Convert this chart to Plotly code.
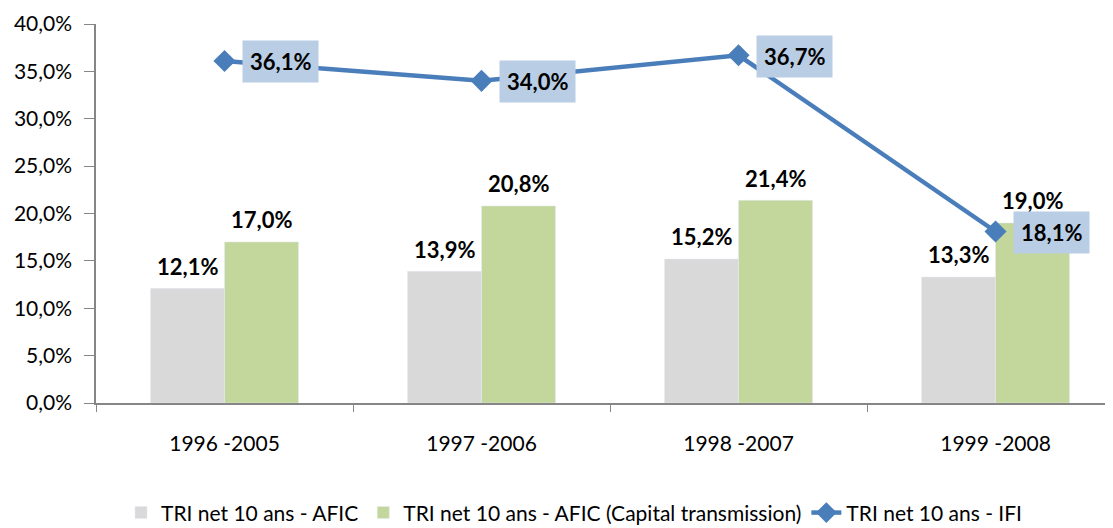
import plotly.graph_objects as go

categories = ["1996 -2005", "1997 -2006", "1998 -2007", "1999 -2008"]
afic = [12.1, 13.9, 15.2, 13.3]
afic_ct = [17.0, 20.8, 21.4, 19.0]
ifi = [36.1, 34.0, 36.7, 18.1]

name_afic = "TRI net 10 ans - AFIC"
name_ct = "TRI net 10 ans - AFIC (Capital transmission)"
name_ifi = "TRI net 10 ans - IFI"

FONT = "Lato"
BARGAP = 0.424
CAT_PX = 257  # pixel width of one category slot


def fmt(v):
    return f"{v:.1f}%".replace(".", ",")


fig = go.Figure()
fig.add_trace(go.Bar(x=categories, y=afic, name=name_afic, marker_color="#d9d9d9"))
fig.add_trace(go.Bar(x=categories, y=afic_ct, name=name_ct, marker_color="#c3d69b"))
fig.add_trace(go.Scatter(x=categories, y=ifi, name=name_ifi, mode="lines+markers",
                         line=dict(color="#4a7ebb", width=4.5),
                         marker=dict(symbol="diamond", size=17, color="#4a7ebb"),
                         cliponaxis=False))

half_bar = (1 - BARGAP) * CAT_PX / 4
for series, sign in ((afic, -1), (afic_ct, 1)):
    for c, v in zip(categories, series):
        fig.add_annotation(x=c, y=v, text=f"<b>{fmt(v)}</b>", showarrow=False,
                           xanchor="center", yanchor="middle",
                           xshift=sign * half_bar, yshift=22,
                           font=dict(family=FONT, size=22, color="#000000"))

for c, v in zip(categories, ifi):
    fig.add_annotation(x=c, y=v, text=f"<b>{fmt(v)}</b>",
                       showarrow=False, xanchor="left", yanchor="middle",
                       xshift=17, yshift=-1, bgcolor="#b9cde5", borderpad=7,
                       font=dict(family=FONT, size=22, color="#000000"))

fig.update_layout(
    width=1105, height=520,
    margin=dict(l=88, r=0, t=16, b=125, autoexpand=False),
    paper_bgcolor="white", plot_bgcolor="white",
    barmode="group", bargap=BARGAP, bargroupgap=0,
    font=dict(family=FONT, size=20, color="#000000"),
    showlegend=True,
    legend=dict(orientation="h", x=0.47, xanchor="center", y=-0.29, yanchor="middle",
                font=dict(family=FONT, size=21, color="#000000"),
                traceorder="normal", itemwidth=30),
    xaxis=dict(range=[-0.5, 3.457], showline=True, linecolor="#868686", linewidth=1.5,
               ticks="outside", tickson="boundaries", ticklen=7, tickcolor="#868686",
               showgrid=False, ticklabelstandoff=21, automargin=False,
               tickfont=dict(family=FONT, size=21, color="#000000")),
    yaxis=dict(range=[0, 40], tickvals=[0, 5, 10, 15, 20, 25, 30, 35, 40],
               ticktext=[fmt(v) for v in [0, 5, 10, 15, 20, 25, 30, 35, 40]],
               showline=True, linecolor="#868686", linewidth=1.5,
               ticks="outside", ticklen=10, tickcolor="#868686",
               showgrid=False, zeroline=False, ticklabelstandoff=8, automargin=False,
               tickfont=dict(family=FONT, size=21, color="#000000")),
)

fig.write_html("out.html")
